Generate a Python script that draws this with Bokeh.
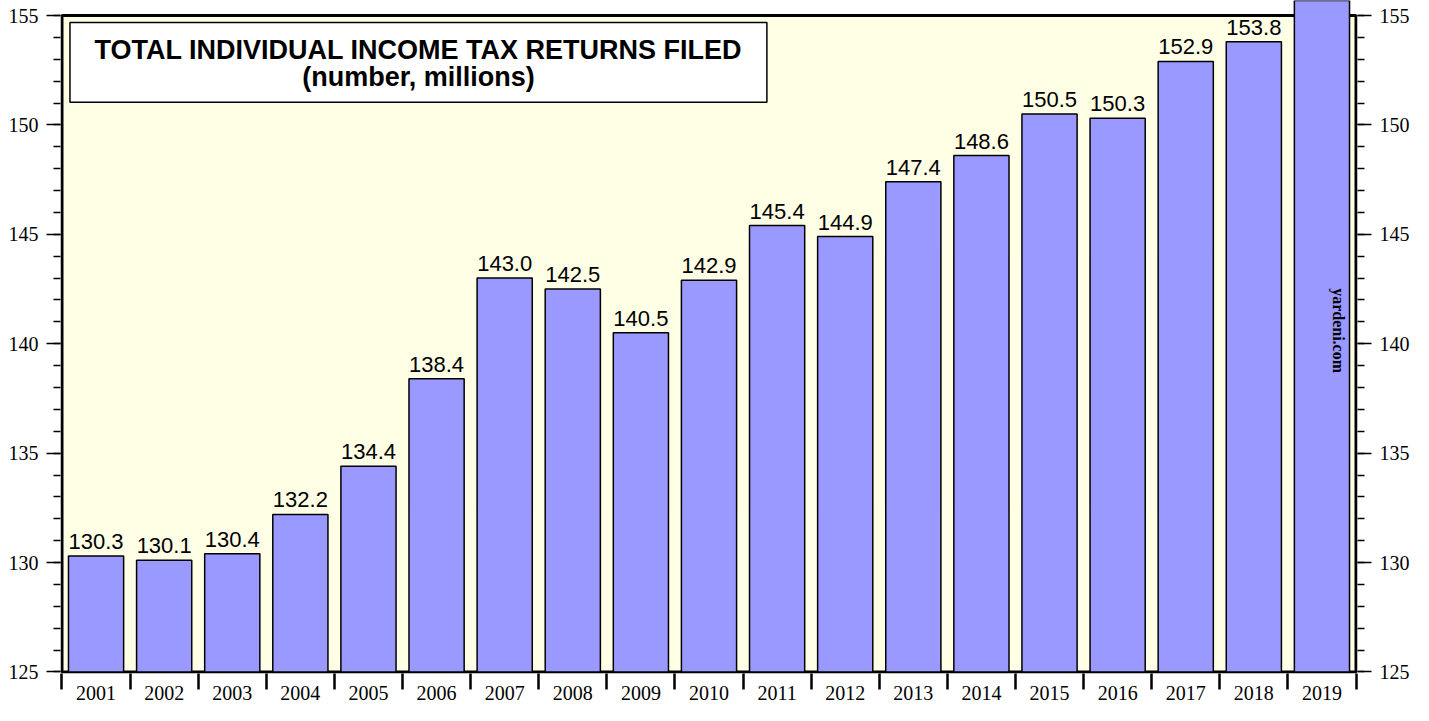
from bokeh.plotting import figure
from bokeh.models import (LinearAxis, FixedTicker, SingleIntervalTicker, Range1d,
                          BoxAnnotation, Label, ColumnDataSource)
from bokeh.core.properties import value
from bokeh.embed import file_html
from bokeh.resources import INLINE

years = ["2001", "2002", "2003", "2004", "2005", "2006", "2007", "2008", "2009", "2010",
         "2011", "2012", "2013", "2014", "2015", "2016", "2017", "2018", "2019"]
returns = [130.3, 130.1, 130.4, 132.2, 134.4, 138.4, 143.0, 142.5, 140.5, 142.9,
           145.4, 144.9, 147.4, 148.6, 150.5, 150.3, 152.9, 153.8, 157.3]

Y_MIN, Y_MAX = 125, 155
BAR = "#9999FF"
CREAM = "#FFFFE6"
SERIF = "Liberation Serif"
SANS = "Liberation Sans"

n = len(years)
xc = [i + 0.5 for i in range(n)]
src = ColumnDataSource(dict(x=xc, top=returns))
shown = [(x, v) for x, v in zip(xc, returns) if v <= Y_MAX]
lab_src = ColumnDataSource(dict(x=[s[0] for s in shown], top=[s[1] for s in shown],
                                lab=["%.1f" % s[1] for s in shown]))

xpad = 0.022
p = figure(width=1413, height=705, output_backend="svg", toolbar_location=None,
           x_range=Range1d(-xpad, n + xpad), y_range=Range1d(124.93, 155.686),
           min_border_left=60, min_border_right=56, min_border_top=0, min_border_bottom=32,
           x_axis_location=None, y_axis_location=None)
p.outline_line_color = None
p.grid.visible = False
p.background_fill_color = "white"
p.border_fill_color = "white"

# plot area (cream box with black border), drawn under the bars
p.add_layout(BoxAnnotation(left=0, right=n, bottom=Y_MIN, top=Y_MAX, fill_color=CREAM,
                           fill_alpha=1, line_color="black", line_width=3, line_alpha=1,
                           level="underlay"))

p.vbar(x="x", top="top", bottom=Y_MIN, width=0.81, source=src,
       fill_color=BAR, line_color="black", line_width=1.5)
p.text(x="x", y="top", text="lab", source=lab_src, text_align="center",
       text_baseline="bottom", y_offset=-7, text_font=value(SANS),
       text_font_size="22px", text_color="black")

# x axis: year labels centred, ticks between years
xaxis = LinearAxis(ticker=FixedTicker(ticks=xc, minor_ticks=list(range(n + 1))),
                   major_label_overrides={x: y for x, y in zip(xc, years)})
xaxis.axis_line_color = None
xaxis.major_tick_out = 0
xaxis.major_tick_in = 0
xaxis.minor_tick_out = 16
xaxis.minor_tick_in = 0
xaxis.minor_tick_line_width = 2.5
xaxis.minor_tick_line_color = "black"
xaxis.major_label_standoff = -4
xaxis.major_label_text_font = SERIF
xaxis.major_label_text_font_size = "20px"
xaxis.major_label_text_color = "black"
p.add_layout(xaxis, "below")

for side in ("left", "right"):
    ax = LinearAxis(ticker=SingleIntervalTicker(interval=5, num_minor_ticks=5))
    ax.axis_line_color = None
    ax.major_tick_out = 14
    ax.major_tick_in = 0
    ax.minor_tick_out = 7
    ax.minor_tick_in = 0
    ax.major_tick_line_width = 1.5
    ax.minor_tick_line_width = 1.5
    ax.major_tick_line_color = "black"
    ax.minor_tick_line_color = "black"
    ax.major_label_standoff = 8
    ax.major_label_text_font = SERIF
    ax.major_label_text_font_size = "20px"
    ax.major_label_text_color = "black"
    ax.major_label_orientation = "horizontal"
    p.add_layout(ax, side)

# title box
bl, br, bb, bt = 0.117, 10.35, 151.04, 154.68
p.add_layout(BoxAnnotation(left=bl, right=br, bottom=bb, top=bt,
                           fill_color="white", fill_alpha=1, line_color="black",
                           line_alpha=1, line_width=1.5, level="annotation"))
cx = (bl + br) / 2
p.add_layout(Label(x=cx, y=153.43, text="TOTAL INDIVIDUAL INCOME TAX RETURNS FILED",
                   text_align="center", text_baseline="alphabetic", text_font=SANS,
                   text_font_style="bold", text_font_size="27px", text_color="black"))
p.add_layout(Label(x=cx, y=152.21, text="(number, millions)",
                   text_align="center", text_baseline="alphabetic", text_font=SANS,
                   text_font_style="bold", text_font_size="27px", text_color="black"))

# watermark
p.add_layout(Label(x=18.75, y=140.6, text="yardeni.com", angle=-1.5707963,
                   text_align="center", text_baseline="middle", text_font=SERIF,
                   text_font_style="bold", text_font_size="16px", text_color="black"))

open("out.html", "w").write(file_html(p, INLINE))
